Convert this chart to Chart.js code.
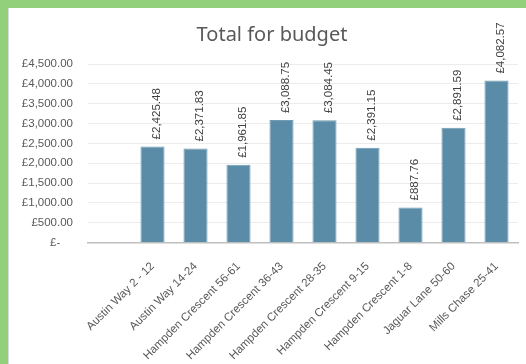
<!DOCTYPE html>
<html>
<head>
<meta charset="utf-8">
<script src="https://cdn.jsdelivr.net/npm/chart.js@4"></script>
<style>
  html, body { margin: 0; padding: 0; width: 526px; height: 364px; overflow: hidden; background: #92d07c; }
  #wrap { position: absolute; left: 8px; top: 8px; width: 527px; height: 356px; background: #fff; border-left: 1px solid #d9d9d9; }
</style>
</head>
<body>
<div id="wrap"><canvas id="myChart" width="527" height="356"></canvas></div>
<script>
const titleText = 'Total for budget'
const sites = ['', 'Austin Way 2 - 12', 'Austin Way 14-24', 'Hampden Crescent 56-61', 'Hampden Crescent 36-43',
  'Hampden Crescent 28-35', 'Hampden Crescent 9-15', 'Hampden Crescent 1-8', 'Jaguar Lane 50-60', 'Mills Chase 25-41']
const totals = [null, 2425.48, 2371.83, 1961.85, 3088.75, 3084.45, 2391.15, 887.76, 2891.59, 4082.57]
const yMax = 4500
const yStep = 500

const barColor = '#5a8ba7'
const textColor = '#595959'

function money(v) {
  if (v === 0) return '£-    '
  return '£' + v.toLocaleString('en-GB', { minimumFractionDigits: 2, maximumFractionDigits: 2 })
}

// title + value labels above each bar
const extras = {
  id: 'extras',
  afterDatasetsDraw(chart) {
    const c = chart.ctx
    c.save()
    c.fillStyle = textColor
    c.font = '20px "Noto Sans"'
    c.textAlign = 'center'
    c.textBaseline = 'middle'
    c.fillText(titleText, 263, 27)

    c.fillStyle = '#404040'
    c.font = '11.5px "Liberation Sans"'
    c.textAlign = 'left'
    chart.getDatasetMeta(0).data.forEach((bar, i) => {
      if (totals[i] == null) return
      c.save()
      c.translate(bar.x + 4, bar.y - 7)
      c.rotate(-Math.PI / 2)
      c.fillText(money(totals[i]), 0, 0)
      c.restore()
    })
    c.restore()
  }
}

new Chart(document.getElementById('myChart'), {
  type: 'bar',
  data: {
    labels: sites,
    datasets: [{
      data: totals,
      backgroundColor: barColor,
      borderColor: '#6f9bb3',
      borderWidth: 1,
      barPercentage: 0.56,
      categoryPercentage: 1
    }]
  },
  options: {
    responsive: false,
    animation: false,
    layout: { padding: { top: 56, right: 18, left: 0, bottom: 0 } },
    plugins: { legend: { display: false }, tooltip: { enabled: false }, title: { display: false } },
    scales: {
      x: {
        grid: { display: false },
        border: { color: '#bfbfbf', width: 1.5 },
        ticks: {
          color: textColor,
          font: { size: 11.5, family: '"Liberation Sans"' },
          minRotation: 45, maxRotation: 45, autoSkip: false, padding: 9
        },
        afterFit: s => { s.height = 121.3 }
      },
      y: {
        min: 0, max: yMax,
        grid: { color: '#ececec', drawTicks: false, tickLength: 0 },
        border: { display: false },
        ticks: {
          stepSize: yStep,
          color: textColor,
          font: { size: 11.5, family: '"Liberation Sans"' },
          padding: 15,
          callback: v => money(v)
        },
        afterFit: s => { s.width = 79 }
      }
    }
  },
  plugins: [extras]
})
</script>
</body>
</html>
